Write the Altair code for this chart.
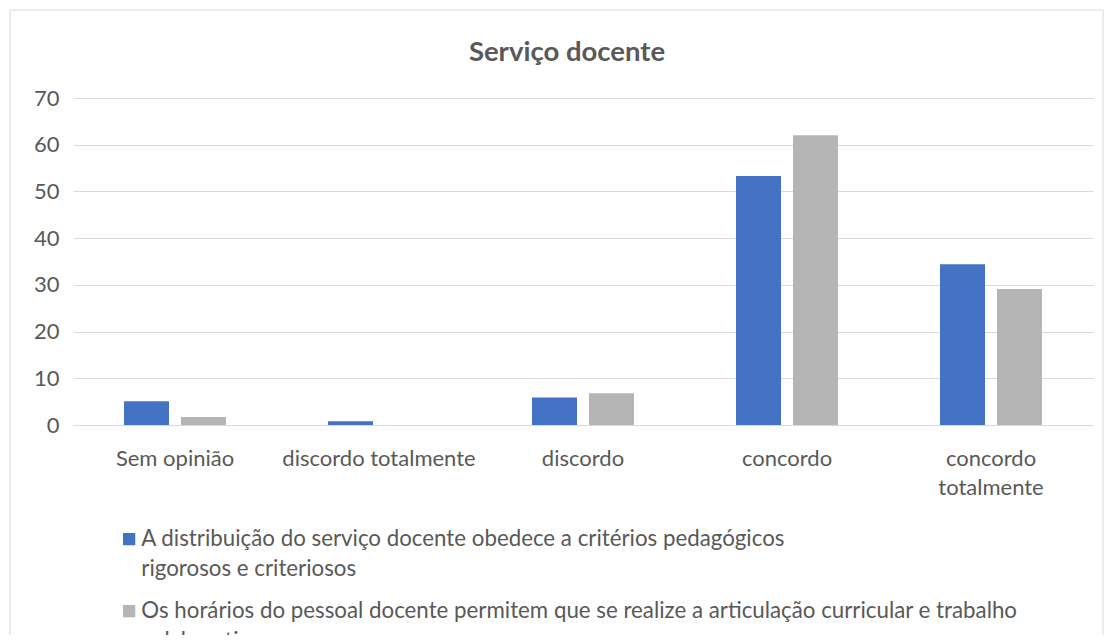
import altair as alt
import pandas as pd

categories = ["Sem opinião", "discordo totalmente", "discordo", "concordo", "concordo totalmente"]
series_names = [
    "A distribuição do serviço docente obedece a critérios pedagógicos\nrigorosos e criteriosos",
    "Os horários do pessoal docente permitem que se realize a articulação curricular e trabalho\ncolaborativo",
]
serie1 = [5.1, 0.8, 5.9, 53.3, 34.4]
serie2 = [1.7, 0.0, 6.8, 62.0, 29.1]
colors = ["#4472C4", "#B5B5B5"]
y_ticks = [0, 10, 20, 30, 40, 50, 60, 70]

rows = []
for i, c in enumerate(categories):
    rows.append({"cat": c, "serie": series_names[0], "valor": serie1[i]})
    rows.append({"cat": c, "serie": series_names[1], "valor": serie2[i]})
df = pd.DataFrame(rows)

FONT = "Lato"
TXT = "#595959"
DY = -11

bars = alt.Chart(df).mark_bar().encode(
    x=alt.X("cat:N", sort=categories, title=None,
            scale=alt.Scale(paddingInner=0.5, paddingOuter=0.25),
            axis=alt.Axis(labelAngle=0, ticks=False, domain=True, domainColor="#d9d9d9",
                          labelFontSize=22, labelColor=TXT, labelFont=FONT, labelPadding=34,
                          labelLineHeight=29, labelLimit=300,
                          labelExpr="datum.label == 'concordo totalmente' ? ['concordo', 'totalmente'] : datum.label")),
    xOffset=alt.XOffset("serie:N", sort=series_names,
                        scale=alt.Scale(paddingInner=0.21, paddingOuter=0)),
    y=alt.Y("valor:Q", title=None,
            scale=alt.Scale(domain=[0, 70], nice=False),
            axis=alt.Axis(values=y_ticks, ticks=False, domain=False, gridColor="#d9d9d9",
                          labelFontSize=22, labelColor=TXT, labelFont=FONT, labelPadding=14,
                          labelOffset=-DY)),
    color=alt.Color("serie:N", sort=series_names,
                    scale=alt.Scale(domain=series_names, range=colors),
                    legend=alt.Legend(title=None, orient="none", legendX=45, legendY=430,
                                      symbolType="square", symbolSize=150, symbolStrokeWidth=0,
                                      labelFontSize=22.3, labelColor=TXT, labelFont=FONT,
                                      labelLimit=1000, labelOffset=1, rowPadding=19,
                                      labelBaseline="top")),
)

border = alt.Chart(pd.DataFrame({"a": [0]})).mark_rect(
    fill="transparent", stroke="#d9d9d9", strokeWidth=1
).encode(x=alt.value(-63), x2=alt.value(1030), y=alt.value(-88), y2=alt.value(700))

chart = alt.layer(bars, border).properties(
    width=1020, height=327,
    title=alt.Title("Serviço docente", font=FONT, fontSize=27.5, fontWeight="bold",
                    color=TXT, anchor="middle", dx=-16, offset=-79, baseline="alphabetic"),
    autosize=alt.AutoSizeParams(type="none"),
    padding={"left": 65, "top": 90, "right": 12, "bottom": 210},
).configure(lineBreak="\n", style={"guide-label": {"lineHeight": 30, "dy": DY}}).configure_view(stroke=None)

chart.save("out.html", embed_options={"renderer": "svg", "actions": False})
